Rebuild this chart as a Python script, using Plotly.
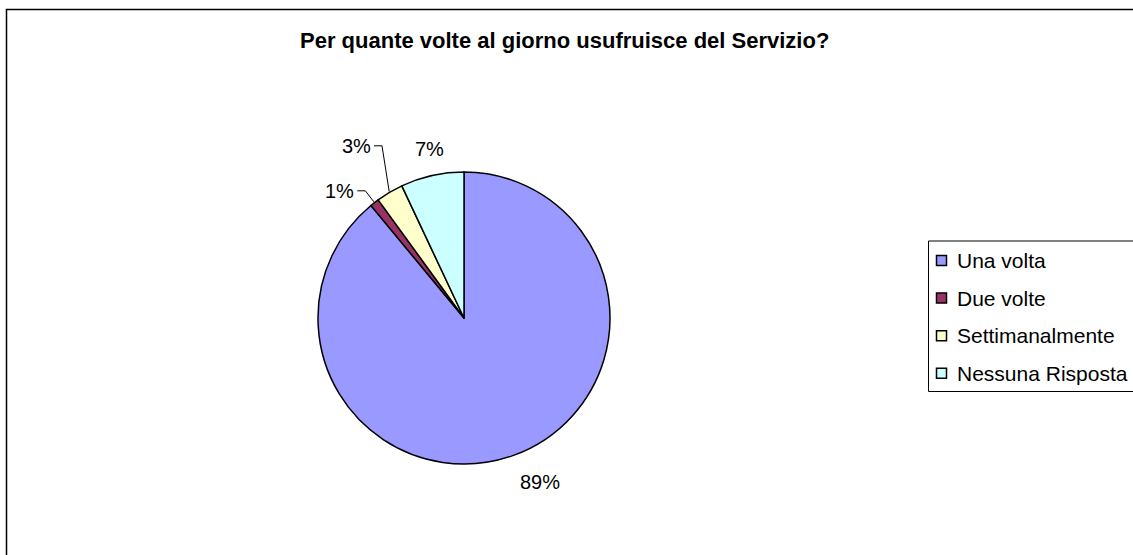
import math
import plotly.graph_objects as go

# Survey answers: how often per day the service is used
labels = ["Una volta", "Due volte", "Settimanalmente", "Nessuna Risposta"]
values = [89, 1, 3, 7]
colors = ["#9999FF", "#993366", "#FFFFCC", "#CCFFFF"]
title_text = "Per quante volte al giorno usufruisce del Servizio?"

# Page geometry (pixel coordinates, y grows downward)
W, H = 1133, 555
CX, CY, R = 464, 318, 146
FONT = "Liberation Sans, Arial, sans-serif"

fig = go.Figure()

# Pie occupies a square domain centred on (CX, CY)
fig.add_trace(go.Pie(
    labels=labels,
    values=values,
    sort=False,
    direction="clockwise",
    rotation=0,
    textinfo="none",
    hoverinfo="label+percent",
    marker=dict(colors=colors, line=dict(color="black", width=1.5)),
    domain=dict(x=[(CX - R) / W, (CX + R) / W],
                y=[(H - CY - R) / H, (H - CY + R) / H]),
    showlegend=False,
))

shapes = []
annotations = []

# Percentage labels, placed from each slice's mid-angle
total = sum(values)
cum = 0.0
prev_small_y = None
for v in values:
    a0 = cum / total * 2 * math.pi
    cum += v
    a1 = cum / total * 2 * math.pi
    mid = (a0 + a1) / 2
    s, c = math.sin(mid), math.cos(mid)
    pct = f"{round(v / total * 100)}%"
    if v / total >= 0.05:
        ax = CX + (R + 14) * s
        ay = CY - (R + 14) * c
        xa = "left" if s > 0.3 else ("right" if s < -0.3 else "center")
        ya = "top" if c < -0.3 else ("bottom" if c > 0.3 else "middle")
        annotations.append(dict(x=ax, y=ay, xref="x", yref="y", text=pct,
                                showarrow=False, xanchor=xa, yanchor=ya,
                                font=dict(family=FONT, size=20, color="black")))
    else:
        # small slice: label pulled out with an elbow leader line
        sx, sy = CX + (R + 1) * s, CY - (R + 1) * c
        ex, ey = CX + (R + 15) * s, CY - (R + 15) * c
        if prev_small_y is not None and ey > prev_small_y - 45:
            ey = prev_small_y - 45
        prev_small_y = ey
        hx = ex - 8
        shapes.append(dict(type="path", xref="x", yref="y",
                           path=f"M {sx:.1f},{sy:.1f} L {ex:.1f},{ey:.1f} L {hx:.1f},{ey:.1f}",
                           line=dict(color="black", width=1)))
        annotations.append(dict(x=hx - 1, y=ey, xref="x", yref="y", text=pct,
                                showarrow=False, xanchor="right", yanchor="middle",
                                font=dict(family=FONT, size=20, color="black")))

# Legend: framed box with square swatches
LX0, LY0, LX1, LY1 = 928.5, 241, 1140, 391.5
ITEM_Y0, ITEM_STEP = 260.5, 37.6
item_y = [ITEM_Y0 + i * ITEM_STEP for i in range(len(labels))]
shapes.append(dict(type="rect", xref="x", yref="y", x0=LX0, y0=LY0, x1=LX1, y1=LY1,
                   line=dict(color="black", width=1), fillcolor="white", layer="below"))
fig.add_trace(go.Scatter(
    x=[941.5] * len(labels), y=item_y, mode="markers",
    marker=dict(symbol="square", size=10, color=colors, line=dict(color="black", width=1.5)),
    hoverinfo="skip", showlegend=False,
))
for lab, yy in zip(labels, item_y):
    annotations.append(dict(x=955, y=yy, xref="x", yref="y", text=lab, showarrow=False,
                            xanchor="left", yanchor="middle",
                            font=dict(family=FONT, size=21, color="black")))

# Chart frame
shapes.append(dict(type="rect", xref="x", yref="y", x0=6.5, y0=9.5, x1=1150, y1=570,
                   line=dict(color="black", width=1.5), layer="below"))

# Title
annotations.append(dict(x=564, y=40, xref="x", yref="y", text=f"<b>{title_text}</b>",
                        showarrow=False, xanchor="center", yanchor="middle",
                        font=dict(family=FONT, size=22, color="black")))

fig.update_layout(
    width=W, height=H,
    margin=dict(l=0, r=0, t=0, b=0),
    paper_bgcolor="white", plot_bgcolor="white",
    xaxis=dict(range=[0, W], visible=False, fixedrange=True, domain=[0, 1]),
    yaxis=dict(range=[H, 0], visible=False, fixedrange=True, domain=[0, 1]),
    shapes=shapes,
    annotations=annotations,
    showlegend=False,
)

fig.write_html("out.html")
